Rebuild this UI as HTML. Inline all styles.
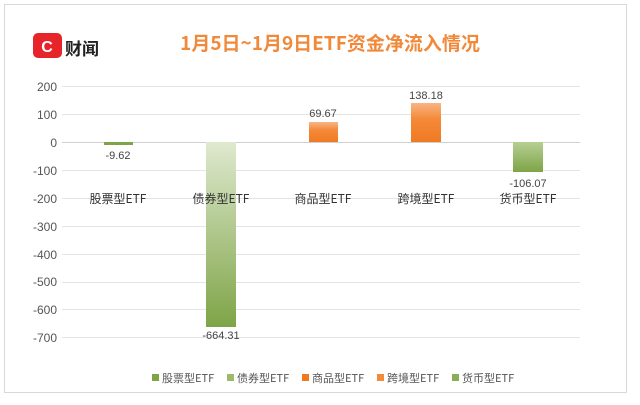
<!DOCTYPE html>
<html><head><meta charset="utf-8"><style>
body{margin:0;width:640px;height:400px;background:#fff;overflow:hidden;font-family:"Liberation Sans","Noto Sans CJK SC",sans-serif}
</style></head><body>
<svg width="640" height="400" xmlns="http://www.w3.org/2000/svg" font-family="Liberation Sans, Noto Sans CJK SC, sans-serif">
<defs>
<linearGradient id="g" x1="0" y1="0" x2="0" y2="1"><stop offset="0" stop-color="#dfe9cf"/><stop offset="1" stop-color="#7ea447"/></linearGradient>
<linearGradient id="g2" x1="0" y1="0" x2="0" y2="1"><stop offset="0" stop-color="#b6cf92"/><stop offset="1" stop-color="#7ea447"/></linearGradient>
<linearGradient id="o" x1="0" y1="0" x2="0" y2="1"><stop offset="0" stop-color="#f8b585"/><stop offset="0.4" stop-color="#f48a3a"/><stop offset="1" stop-color="#f07a22"/></linearGradient>
</defs>
<rect x="4.5" y="4.5" width="622" height="388" fill="#fff" stroke="#d8d8d8"/>
<rect x="33" y="33" width="29" height="25" rx="5" fill="#e8242b"/>
<text x="47" y="52" font-size="16" font-weight="bold" fill="#fff" text-anchor="middle">C</text>
<text x="65" y="55" font-size="17" font-weight="bold" fill="#222" font-family="Noto Sans CJK SC, sans-serif">财闻</text>
<text x="330" y="50" font-size="19" font-weight="bold" fill="#f0893a" text-anchor="middle" font-family="Noto Sans CJK SC, sans-serif">1月5日~1月9日ETF资金净流入情况</text>
<g stroke="#e4e4e4" stroke-width="1">
<line x1="62" x2="580" y1="86.5" y2="86.5"/><line x1="62" x2="580" y1="114.5" y2="114.5"/>
<line x1="62" x2="580" y1="198.5" y2="198.5"/><line x1="62" x2="580" y1="226.5" y2="226.5"/>
<line x1="62" x2="580" y1="254.5" y2="254.5"/><line x1="62" x2="580" y1="282.5" y2="282.5"/>
<line x1="62" x2="580" y1="309.5" y2="309.5"/><line x1="62" x2="580" y1="337.5" y2="337.5"/>
<line x1="62" x2="580" y1="170.5" y2="170.5"/>
</g>
<line x1="62" x2="580" y1="142.5" y2="142.5" stroke="#d0d0d0"/>
<g font-size="12" fill="#555" text-anchor="end">
<text x="57" y="91">200</text><text x="57" y="119">100</text><text x="57" y="147">0</text>
<text x="57" y="175">-100</text><text x="57" y="203">-200</text><text x="57" y="231">-300</text>
<text x="57" y="259">-400</text><text x="57" y="286">-500</text><text x="57" y="314">-600</text><text x="57" y="342">-700</text>
</g>
<rect x="104" y="142" width="29" height="3" fill="#7ea447"/>
<rect x="206" y="142" width="30" height="185" fill="url(#g)"/>
<rect x="309" y="122" width="29" height="20" fill="url(#o)"/>
<rect x="411" y="103" width="30" height="39" fill="url(#o)"/>
<rect x="513" y="142" width="30" height="30" fill="url(#g2)"/>
<g font-size="11" fill="#444" text-anchor="middle">
<text x="118" y="159">-9.62</text><text x="221" y="339">-664.31</text>
<text x="323" y="117">69.67</text><text x="426" y="99">138.18</text><text x="528" y="187">-106.07</text>
</g>
<g font-size="12" fill="#333" text-anchor="middle" font-family="Noto Sans CJK SC, sans-serif">
<text x="118" y="203">股票型ETF</text><text x="221" y="203">债券型ETF</text>
<text x="323" y="203">商品型ETF</text><text x="426" y="203">跨境型ETF</text><text x="528" y="203">货币型ETF</text>
</g>
<g font-size="11" fill="#555" font-family="Noto Sans CJK SC, sans-serif">
<rect x="152" y="374" width="7" height="7" fill="#7ea447"/><text x="162" y="382">股票型ETF</text>
<rect x="227" y="374" width="7" height="7" fill="#9bbb6a"/><text x="237" y="382">债券型ETF</text>
<rect x="302" y="374" width="7" height="7" fill="#f07a22"/><text x="312" y="382">商品型ETF</text>
<rect x="377" y="374" width="7" height="7" fill="#f48a3a"/><text x="387" y="382">跨境型ETF</text>
<rect x="452" y="374" width="7" height="7" fill="#8aad55"/><text x="462" y="382">货币型ETF</text>
</g>
</svg>
</body></html>
